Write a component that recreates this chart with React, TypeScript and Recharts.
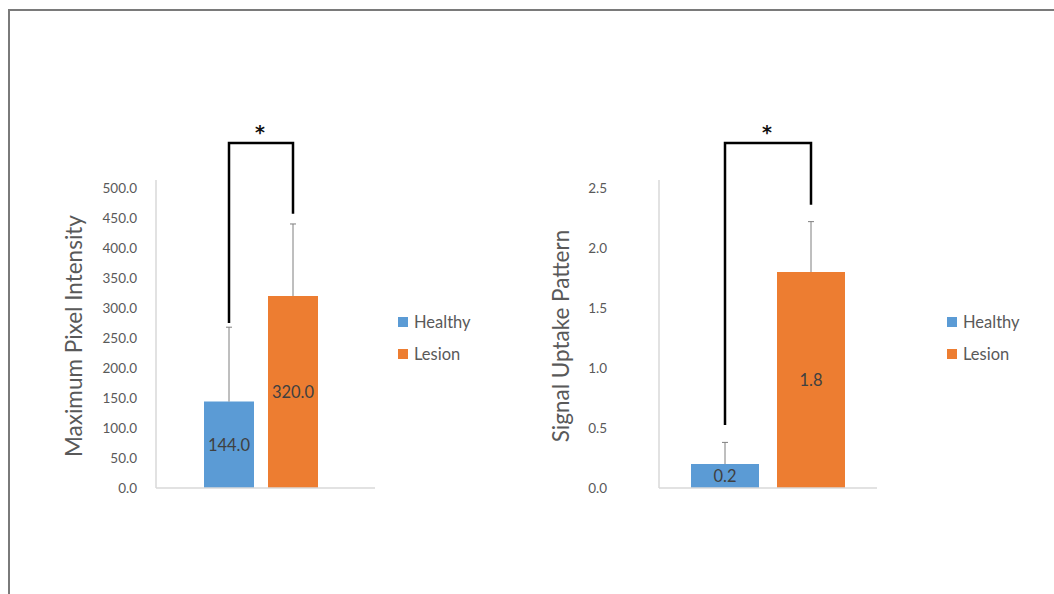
import { Bar, BarChart, Label, LabelList, Legend, XAxis, YAxis } from "recharts";

const FONT = "Lato, 'Noto Sans', sans-serif";
const GROUPS = ["Healthy", "Lesion"];
const COLORS = ["#5b9bd5", "#ed7d31"];
const TEXT = "#595959";
const AXIS = "#d9d9d9";

// Maximum pixel intensity (mean, upper SD)
const intensityMeans = [144.0, 320.0];
const intensityErrors = [124, 120];
const intensityTicks = [0, 50, 100, 150, 200, 250, 300, 350, 400, 450, 500];
// healthy leg end, lesion leg end, bracket top
const intensityBracket = [275, 457, 575];

// Signal uptake pattern
const uptakeMeans = [0.2, 1.8];
const uptakeErrors = [0.18, 0.42];
const uptakeTicks = [0, 0.5, 1.0, 1.5, 2.0, 2.5];
const uptakeBracket = [0.525, 2.36, 2.875];

function buildRow(means: number[], errors: number[]) {
  return [
    {
      name: "",
      healthy: means[0],
      lesion: means[1],
      healthyErr: errors[0],
      lesionErr: errors[1],
    },
  ];
}

// geometry of a bar label -> value-to-pixel helper
function barGeom(props: any) {
  const vb = props.viewBox ?? props;
  const { x, y, width, height } = vb;
  const value = Number(props.value);
  const base = y + height;
  const k = value ? height / value : 0;
  return { x, width, value, py: (v: number) => base - v * k };
}

// upward-only whisker (Excel "plus" error bar)
function makeWhisker(errors: number[], index: number) {
  return (props: any) => {
    const { x, width, value, py } = barGeom(props);
    if (!value) return null;
    const cx = x + width / 2;
    const top = py(value + errors[index]);
    return (
      <g stroke="#7f7f7f" strokeWidth={1}>
        <line x1={cx} y1={py(value)} x2={cx} y2={top} />
        <line x1={cx - 3} y1={top} x2={cx + 3} y2={top} />
      </g>
    );
  };
}

function makeBracket(bracket: number[], barGap: number) {
  return (props: any) => {
    const { x, width, value, py } = barGeom(props);
    if (!value) return null;
    const rx = x + width / 2;
    const lx = rx - width - barGap;
    const top = py(bracket[2]);
    return (
      <g>
        <path
          d={`M${lx},${py(bracket[0])} L${lx},${top} L${rx},${top} L${rx},${py(bracket[1])}`}
          fill="none"
          stroke="#000"
          strokeWidth={2.5}
        />
        <text
          x={(lx + rx) / 2 - 1}
          y={top - 4}
          textAnchor="middle"
          fontFamily="'DejaVu Sans', sans-serif"
          fontWeight="bold"
          fontSize={19}
          fill="#111"
        >
          *
        </text>
      </g>
    );
  };
}

function LegendBox() {
  return (
    <div style={{ display: "flex", flexDirection: "column", gap: 14 }}>
      {GROUPS.map((g, i) => (
        <div
          key={g}
          style={{
            display: "flex",
            alignItems: "center",
            height: 18,
            fontFamily: FONT,
            fontSize: 16.5,
            color: TEXT,
          }}
        >
          <span style={{ width: 10, height: 10, background: COLORS[i], marginRight: 6 }} />
          {g}
        </div>
      ))}
    </div>
  );
}

function SigBarChart({
  means,
  errors,
  ticks,
  bracket,
  domainMax,
  title,
  marginLeft,
  marginRight,
  tickGap,
  titleGap,
  barSize,
  barGap,
  padRight,
  legendLeft,
}: any) {
  const data = buildRow(means, errors);
  return (
    <BarChart
      width={527}
      height={594}
      data={data}
      margin={{ top: 180, right: marginRight, bottom: 105, left: marginLeft }}
      barSize={barSize}
      barGap={barGap}
    >
      <XAxis
        dataKey="name"
        height={1}
        tick={false}
        tickLine={false}
        axisLine={{ stroke: AXIS, strokeWidth: 1.5 }}
        padding={{ left: 0, right: padRight }}
      />
      <YAxis
        width={60}
        domain={[0, domainMax]}
        ticks={ticks}
        interval={0}
        tickSize={0}
        tickMargin={tickGap}
        tickLine={false}
        axisLine={{ stroke: AXIS, strokeWidth: 1.5 }}
        tick={{ fill: TEXT, fontSize: 13.5, fontFamily: FONT }}
        tickFormatter={(v: number) => v.toFixed(1)}
        allowDataOverflow
      >
        <Label
          content={(props: any) => {
            const { x, y, width, height } = props.viewBox;
            const cx = x + width - titleGap;
            const cy = y + height / 2 + 2;
            return (
              <text
                x={cx}
                y={cy}
                transform={`rotate(-90 ${cx} ${cy})`}
                textAnchor="middle"
                dominantBaseline="central"
                fontFamily={FONT}
                fontSize={22.5}
                fill={TEXT}
              >
                {title}
              </text>
            );
          }}
        />
      </YAxis>
      <Legend
        layout="horizontal"
        verticalAlign="middle"
        content={() => <LegendBox />}
        wrapperStyle={{ left: legendLeft, top: 313, width: "auto" }}
      />
      <Bar dataKey="healthy" name={GROUPS[0]} fill={COLORS[0]} isAnimationActive={false}>
        <LabelList dataKey="healthy" content={makeWhisker(errors, 0)} />
        <LabelList
          dataKey="healthy"
          position="center"
          fill="#404040"
          fontSize={16.5}
          fontFamily={FONT}
          formatter={(v: any) => Number(v).toFixed(1)}
        />
      </Bar>
      <Bar dataKey="lesion" name={GROUPS[1]} fill={COLORS[1]} isAnimationActive={false}>
        <LabelList dataKey="lesion" content={makeWhisker(errors, 1)} />
        <LabelList
          dataKey="lesion"
          position="center"
          fill="#404040"
          fontSize={16.5}
          fontFamily={FONT}
          formatter={(v: any) => Number(v).toFixed(1)}
        />
        <LabelList dataKey="lesion" content={makeBracket(bracket, barGap)} />
      </Bar>
    </BarChart>
  );
}

export default function App() {
  return (
    <div style={{ position: "fixed", left: 0, top: 0, width: 1054, height: 594, background: "#fff" }}>
      <div
        style={{
          position: "absolute",
          left: 8,
          top: 9,
          right: 0,
          bottom: 0,
          borderTop: "2px solid #7a7a7a",
          borderLeft: "2px solid #7a7a7a",
        }}
      />
      <div style={{ position: "absolute", left: 0, top: 0 }}>
        <SigBarChart
          means={intensityMeans}
          errors={intensityErrors}
          ticks={intensityTicks}
          bracket={intensityBracket}
          domainMax={513.3}
          title="Maximum Pixel Intensity"
          marginLeft={96}
          marginRight={152}
          tickGap={19}
          titleGap={83}
          barSize={50}
          barGap={14}
          padRight={9}
          legendLeft={398}
        />
      </div>
      <div style={{ position: "absolute", left: 527, top: 0 }}>
        <SigBarChart
          means={uptakeMeans}
          errors={uptakeErrors}
          ticks={uptakeTicks}
          bracket={uptakeBracket}
          domainMax={2.567}
          title="Signal Uptake Pattern"
          marginLeft={72}
          marginRight={177}
          tickGap={52}
          titleGap={99}
          barSize={68}
          barGap={18}
          padRight={0}
          legendLeft={420}
        />
      </div>
    </div>
  );
}
